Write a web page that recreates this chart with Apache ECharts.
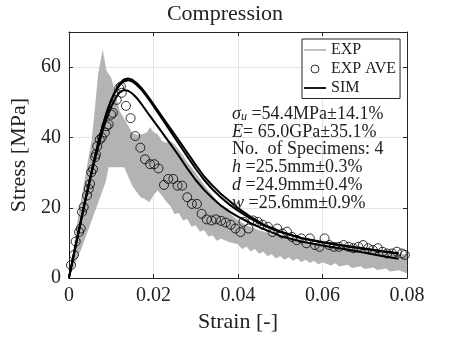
<!DOCTYPE html>
<html lang="en">
<head>
    <meta charset="UTF-8">
    <title>Compression</title>
    <script src="https://cdn.jsdelivr.net/npm/echarts@6/dist/echarts.min.js"></script>
</head>
<body style="margin:0">
    <div id="main" style="width: 450px;height:338px;"></div>
    <script type="text/javascript">
    // EXP: envelope of the four specimen curves (grey band)
    const upperStrain = [0, 0.0025, 0.0054, 0.0062, 0.0069, 0.0080, 0.0089, 0.0100, 0.0110, 0.0120, 0.0135, 0.0150,
        0.0160, 0.0175, 0.0185, 0.0192, 0.0200, 0.0210, 0.0220, 0.0230, 0.0240, 0.0250, 0.0260, 0.0280, 0.0300,
        0.0320, 0.0340, 0.0360, 0.0380, 0.0400, 0.0420, 0.0450, 0.0500, 0.0550, 0.0600, 0.0650, 0.0700, 0.0750, 0.0800];
    const upperStress = [0, 19.7, 39.4, 48.8, 58, 65, 59, 57, 52.5, 47.5, 44.5, 41.3,
        40.8, 41, 41.5, 43, 41.5, 41, 39, 38.5, 39, 38, 36.5, 33, 30,
        26.5, 23.5, 20.7, 18.5, 16.5, 15, 13.6, 11.8, 10.5, 9.5, 8.8, 8, 7.3, 6.7];
    const lowerStrain = [0, 0.003, 0.0087, 0.0094, 0.0131, 0.014, 0.015, 0.016, 0.017, 0.018, 0.019, 0.020, 0.021,
        0.022, 0.023, 0.024, 0.025, 0.026, 0.027, 0.028, 0.029, 0.030, 0.031, 0.032, 0.033, 0.034, 0.035, 0.036,
        0.038, 0.040, 0.041, 0.042, 0.043, 0.044, 0.045, 0.046, 0.047, 0.048, 0.049, 0.050, 0.051, 0.052, 0.053,
        0.054, 0.055, 0.056, 0.057, 0.058, 0.059, 0.060, 0.062, 0.063, 0.064, 0.066, 0.067, 0.069, 0.070, 0.072,
        0.073, 0.075, 0.076, 0.078, 0.080];
    const lowerStress = [0, 8.5, 27.3, 31.5, 31.5, 29, 26.3, 24.5, 23, 22.5, 21.6, 23.5, 25,
        23.5, 21.8, 20.5, 18.2, 18.5, 16.4, 16.8, 14.6, 15, 13.2, 13.6, 11.8, 12.2, 10.6, 11.2,
        10.2, 9.6, 8.2, 9.0, 7.6, 8.3, 6.9, 7.5, 6.2, 6.8, 5.6, 6.3, 5.2, 5.9, 4.9,
        5.6, 4.6, 5.2, 4.3, 4.9, 3.9, 4.5, 3.6, 4.2, 3.3, 3.8, 2.9, 3.4, 2.6, 3.0,
        2.3, 2.7, 1.9, 2.2, 1.4];

    // EXP AVE: averaged experiment (circles)
    const aveStrain = [0.0005, 0.0012, 0.0016, 0.0024, 0.0028, 0.0031, 0.0035, 0.0043, 0.0047, 0.0050,
        0.0053, 0.0057, 0.0062, 0.0064, 0.0067, 0.0073, 0.0078, 0.0085, 0.0089, 0.0094,
        0.0100, 0.0104, 0.0113, 0.0119, 0.0123, 0.0125, 0.0135, 0.0146, 0.0157, 0.0169,
        0.0180, 0.0192, 0.0202, 0.0212, 0.0225, 0.0235, 0.0247, 0.0257, 0.0268, 0.0280,
        0.0291, 0.0303, 0.0314, 0.0326, 0.0337, 0.0348, 0.0360, 0.0371, 0.0383, 0.0394,
        0.0406, 0.0413, 0.0425, 0.0436, 0.0447, 0.0458, 0.0471, 0.0482, 0.0493, 0.0505,
        0.0516, 0.0528, 0.0539, 0.0550, 0.0562, 0.0570, 0.0582, 0.0593, 0.0605, 0.0616,
        0.0627, 0.0639, 0.0650, 0.0662, 0.0673, 0.0685, 0.0696, 0.0708, 0.0719, 0.0731,
        0.0742, 0.0753, 0.0765, 0.0776, 0.0788, 0.0795];
    const aveStress = [3.7, 6.6, 10.4, 13.1, 14.1, 18.8, 20.2, 23.5, 25.4, 26.8,
        30.1, 31, 34.4, 35.2, 37.5, 39.4, 40, 41.4, 43.2, 43.7,
        46.5, 47, 50.7, 54, 54.5, 52.7, 49, 45.5, 40.4, 37.1,
        33.8, 32.4, 32.4, 31.2, 26.5, 28.2, 28.2, 26.3, 26.3, 23,
        21.1, 21.1, 18.3, 16.7, 16.4, 16.7, 16.3, 15.8, 15.2, 14.1,
        13.1, 16, 14.1, 16.4, 16, 15.2, 14.6, 13.1, 14.1, 12.7,
        13.2, 11.7, 10.8, 11.3, 9.9, 11.3, 9.4, 8.9, 11.3, 9.4,
        8.9, 8.9, 9.4, 8.9, 8.5, 8.9, 9.4, 8.5, 8.0, 8.5,
        7.5, 7.0, 7.0, 7.5, 7.0, 6.6];

    // SIM: three simulated curves
    const simStrain = [0, 0.001, 0.002, 0.003, 0.004, 0.005, 0.006, 0.007, 0.008, 0.009, 0.010, 0.011, 0.012,
        0.013, 0.014, 0.015, 0.016, 0.017, 0.018, 0.019, 0.020, 0.022, 0.024, 0.026, 0.028, 0.030, 0.032,
        0.034, 0.036, 0.038, 0.040, 0.043, 0.046, 0.050, 0.055, 0.060, 0.065, 0.070, 0.074, 0.078];
    const simA = [0, 5.8, 11.5, 17.2, 22.8, 28.3, 33.7, 38.8, 43.4, 47.4, 50.7, 53.3, 55.2,
        56.5, 56.8, 56.4, 55.5, 54.3, 52.8, 51.2, 49.5, 46, 42.6, 39.2, 35.7, 32.2, 28.9,
        26.3, 23.9, 21.9, 19.9, 17.4, 15.3, 13.3, 11.4, 10.3, 9.3, 8.4, 7.7, 7.1];
    const simB = [0, 5.8, 11.5, 17.2, 22.8, 28.3, 33.7, 38.8, 43.3, 47.2, 50.5, 53.1, 54.9,
        56.0, 56.3, 55.9, 55.0, 53.8, 52.3, 50.7, 49.0, 45.4, 41.8, 38.2, 34.6, 31.1, 27.9,
        25.2, 22.9, 20.9, 19.2, 16.9, 15.0, 13.1, 11.3, 10.1, 9.1, 8.3, 7.6, 7.0];
    const simC = [0, 5.8, 11.5, 17.1, 22.6, 27.9, 32.9, 37.6, 41.9, 45.6, 48.7, 51.1, 52.8,
        53.5, 53.3, 52.5, 51.3, 49.8, 48.1, 46.4, 44.8, 41.5, 38.2, 34.8, 31.2, 27.9, 25.1,
        22.7, 20.6, 18.9, 17.5, 15.6, 14.0, 12.0, 10.4, 9.3, 8.3, 7.2, 6.3, 5.5];

    const serif = 'Liberation Serif';
    const ink = '#222';

    const pairs = (xs, ys) => xs.map((x, i) => [x, ys[i]]);

    const chart = echarts.init(document.getElementById('main'));

    const simLine = data => ({
        name: 'SIM',
        type: 'line',
        data: data,
        showSymbol: false,
        symbol: 'none',
        lineStyle: { color: '#000', width: 2 },
        itemStyle: { color: '#000' },
        z: 4,
        silent: true
    });

    // box round the plot: axis lines plus inward ticks on all four sides
    const boxAxis = {
        axisLine: { show: true, onZero: false, lineStyle: { color: '#262626', width: 1 } },
        axisTick: { show: true, inside: true, length: 4, lineStyle: { color: '#262626' } }
    };

    chart.setOption({
        animation: false,
        title: {
            text: 'Compression',
            left: 'center',
            top: 0,
            padding: [3, 0, 0, 16],
            textStyle: { fontFamily: serif, fontSize: 22, fontWeight: 'normal', color: ink }
        },
        grid: { left: 58, right: 43, top: 32, bottom: 58 },
        legend: {
            orient: 'vertical',
            left: 302,
            top: 39,
            padding: [1.5, 4, 1, 2],
            itemGap: 0,
            itemWidth: 22,
            itemHeight: 8,
            selectedMode: false,
            backgroundColor: '#fff',
            borderColor: '#262626',
            borderWidth: 1,
            textStyle: { fontFamily: serif, fontSize: 16, color: ink, lineHeight: 19 },
            data: [
                { name: 'EXP', icon: 'path://M0,0H22V1.6H0Z' },
                { name: 'EXP AVE', icon: 'circle', itemStyle: { color: 'rgba(0,0,0,0)', borderColor: '#000', borderWidth: 1 } },
                { name: 'SIM', icon: 'path://M0,0H22V1.8H0Z', itemStyle: { color: '#000' } }
            ]
        },
        xAxis: [
            Object.assign({
                type: 'value', min: 0, max: 0.08, interval: 0.02,
                name: 'Strain [-]', nameLocation: 'middle', nameGap: 32,
                nameTextStyle: { fontFamily: serif, fontSize: 22, color: ink },
                axisLabel: {
                    fontFamily: serif, fontSize: 20, color: ink, margin: 8,
                    formatter: v => (v === 0 ? '0' : v.toFixed(2))
                },
                splitLine: { show: true, lineStyle: { color: '#e3e3e3', width: 1 } }
            }, boxAxis),
            Object.assign({
                type: 'value', position: 'top', min: 0, max: 0.08, interval: 0.02,
                axisLabel: { show: false }, splitLine: { show: false }
            }, boxAxis)
        ],
        yAxis: [
            Object.assign({
                type: 'value', min: 0, max: 70, interval: 20,
                name: 'Stress [MPa]', nameLocation: 'middle', nameGap: 33,
                nameTextStyle: { fontFamily: serif, fontSize: 22, color: ink },
                axisLabel: { fontFamily: serif, fontSize: 20, color: ink, margin: 8, showMaxLabel: false },
                splitLine: { show: true, lineStyle: { color: '#e3e3e3', width: 1 } }
            }, boxAxis),
            Object.assign({
                type: 'value', position: 'right', min: 0, max: 70, interval: 20,
                axisLabel: { show: false }, splitLine: { show: false }
            }, boxAxis)
        ],
        graphic: [{
            type: 'text',
            left: 232,
            top: 105,
            z: 10,
            style: {
                text: '{it|σ}{sub|u} =54.4MPa±14.1%\n' +
                    '{it|E}= 65.0GPa±35.1%\n' +
                    'No.  of Specimens: 4\n' +
                    '{it|h} =25.5mm±0.3%\n' +
                    '{it|d} =24.9mm±0.4%\n' +
                    '{it|w} =25.6mm±0.9%',
                fontFamily: serif,
                fontSize: 18,
                lineHeight: 17.8,
                fill: ink,
                rich: {
                    it: { fontFamily: serif, fontSize: 18, fontStyle: 'italic', lineHeight: 17.8, fill: ink },
                    sub: { fontFamily: serif, fontSize: 12, fontStyle: 'italic', lineHeight: 12, verticalAlign: 'bottom', fill: ink }
                }
            }
        }],
        series: [
            {
                name: 'EXP',
                type: 'custom',
                data: [[0, 0]],
                itemStyle: { color: '#b3b3b3' },
                silent: true,
                z: 1,
                renderItem: function (params, api) {
                    if (params.dataIndex !== 0) return null;
                    const pts = [];
                    for (let i = 0; i < upperStrain.length; i++) {
                        pts.push(api.coord([upperStrain[i], upperStress[i]]));
                    }
                    for (let i = lowerStrain.length - 1; i >= 0; i--) {
                        pts.push(api.coord([lowerStrain[i], lowerStress[i]]));
                    }
                    return { type: 'polygon', shape: { points: pts }, style: { fill: '#b3b3b3' } };
                }
            },
            {
                name: 'EXP AVE',
                type: 'scatter',
                data: pairs(aveStrain, aveStress),
                symbol: 'circle',
                symbolSize: 9,
                itemStyle: { color: 'rgba(0,0,0,0)', borderColor: '#000', borderWidth: 1 },
                z: 3,
                silent: true
            },
            simLine(pairs(simStrain, simA)),
            simLine(pairs(simStrain, simB)),
            simLine(pairs(simStrain, simC))
        ]
    });
    </script>
</body>
</html>
